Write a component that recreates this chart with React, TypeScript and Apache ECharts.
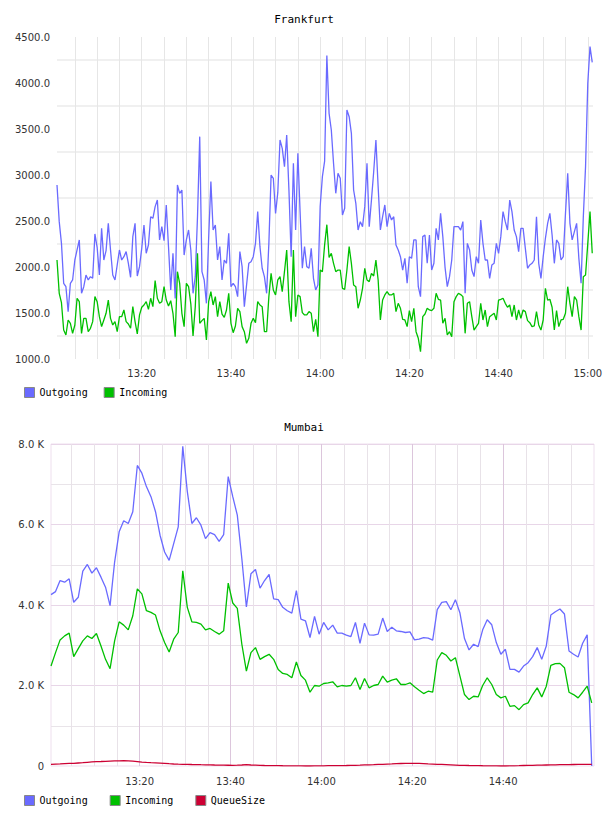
import React, { useEffect, useRef } from "react";
import * as echarts from "echarts";

// Frankfurt: samples every 30 s from 13:01 to 15:01
const frankfurtOutgoing = [
  2891, 2493, 2257, 1823, 1786, 1515, 1823, 1859, 2076, 2185,
  2294, 1714, 1786, 1913, 1859, 1895, 1877, 2359, 2214, 1913,
  2420, 2076, 2178, 2475, 2185, 1913, 1859, 2022, 2185, 2076,
  2112, 2167, 2040, 1888, 2330, 2475, 1902, 2004, 2203, 2457,
  2149, 2239, 2547, 2529, 2656, 2728, 2294, 2439, 2286, 2674,
  2221, 1750, 2149, 1659, 2891, 2801, 2837, 2130, 2294, 2402,
  2185, 1714, 1895, 2547, 3417, 1949, 1859, 1605, 2312, 2928,
  2402, 2457, 2076, 2221, 1859, 2076, 2040, 2366, 1786, 1823,
  1786, 1678, 2167, 2004, 1569, 1804, 2040, 2058, 2112, 2257,
  2602, 2221, 1986, 1895, 1714, 2257, 3000, 2964, 2583, 2808,
  3380, 3290, 3091, 3435, 2837, 2112, 3127, 2402, 3236, 2602,
  1986, 2221, 2004, 1986, 2203, 1877, 1750, 1804, 2656, 2982,
  3150, 4300, 3670, 3489, 3127, 2801, 3018, 2964, 2565, 2638,
  3707, 3634, 3453, 2837, 2692, 2402, 2493, 2439, 2656, 3127,
  2439, 2728, 3036, 3380, 2873, 2402, 2547, 2674, 2439, 2583,
  2511, 2547, 2239, 2185, 2112, 1967, 2094, 1823, 2112, 2094,
  2294, 2294, 1786, 1678, 2330, 2348, 2040, 2348, 1967, 2040,
  2420, 2294, 2583, 2330, 1996, 1786, 1895, 2076, 2439, 2439,
  2439, 2400, 2493, 1714, 2257, 2185, 1967, 1895, 2112, 2040,
  2511, 2257, 2076, 2076, 1877, 2022, 2040, 2257, 2149, 2330,
  2602, 2493, 2402, 2728, 2602, 2402, 2330, 2167, 2420, 2420,
  2203, 1986, 2022, 2040, 2076, 2547, 2040, 1877, 2112, 2312,
  2475, 2583, 2348, 2040, 2294, 2257, 2076, 2112, 2583, 3018,
  2475, 2294, 2384, 2475, 2094, 1823, 2547, 3091, 3996, 4395,
  4225,
];

const frankfurtIncoming = [
  2076, 1714, 1612, 1315, 1261, 1424, 1388, 1279, 1370, 1660,
  1623, 1279, 1442, 1442, 1297, 1334, 1406, 1678, 1623, 1460,
  1352, 1424, 1497, 1641, 1442, 1370, 1406, 1297, 1460, 1460,
  1533, 1406, 1380, 1334, 1569, 1406, 1272, 1479, 1562, 1587,
  1623, 1540, 1660, 1569, 1852, 1660, 1605, 1623, 1786, 1641,
  1576, 1634, 1497, 1243, 1949, 1823, 1497, 1352, 1823, 1786,
  1600, 1250, 1569, 2149, 1388, 1417, 1442, 1207, 1623, 1732,
  1587, 1678, 1460, 1623, 1489, 1453, 1533, 1714, 1388, 1286,
  1359, 1551, 1515, 1352, 1297, 1170, 1225, 1388, 1442, 1395,
  1623, 1587, 1569, 1297, 1297, 1678, 1931, 1750, 1696, 1859,
  1895, 1732, 1949, 2185, 1623, 1406, 2185, 1460, 1696, 1678,
  1504, 1479, 1479, 1515, 1497, 1297, 1431, 1243, 1967, 1949,
  2240, 2460, 2105, 2149, 2040, 1949, 1967, 1967, 1768, 1757,
  1967, 2221, 2040, 1804, 1786, 1551, 1641, 1768, 1986, 1859,
  1841, 1931, 1902, 2076, 1859, 1424, 1641, 1696, 1732, 1696,
  1696, 1714, 1515, 1605, 1551, 1431, 1424, 1352, 1526, 1406,
  1551, 1297, 1225, 1080, 1460, 1489, 1551, 1533, 1526, 1551,
  1714, 1649, 1641, 1388, 1442, 1261, 1297, 1243, 1623, 1678,
  1714, 1700, 1678, 1279, 1605, 1623, 1460, 1315, 1352, 1388,
  1605, 1424, 1533, 1352, 1460, 1479, 1497, 1424, 1641, 1649,
  1660, 1605, 1562, 1587, 1460, 1587, 1424, 1533, 1442, 1533,
  1515, 1417, 1395, 1352, 1359, 1515, 1370, 1315, 1424, 1768,
  1641, 1649, 1562, 1315, 1526, 1352, 1424, 1431, 1497, 1786,
  1605, 1460, 1678, 1641, 1460, 1315, 1895, 1913, 2257, 2602,
  2149,
];

// Mumbai: one sample per minute from 13:00:30
const mumbaiOutgoing = [
  4258, 4333, 4608, 4567, 4650, 4067, 4192, 4842, 5008, 4792,
  4925, 4692, 4442, 3983, 5067, 5817, 6092, 6025, 6317, 7467,
  7275, 6942, 6692, 6317, 5733, 5317, 5108, 5525, 5942, 7942,
  6817, 6025, 6167, 5983, 5650, 5800, 5750, 5583, 5750, 7192,
  6692, 6233, 5150, 3950, 4775, 4883, 4417, 4608, 4758, 4150,
  4133, 3942, 3858, 3800, 4358, 3650,
  3608, 3192, 3717, 3275, 3567, 3383, 3500, 3300, 3300, 3250,
  3217, 3567, 3050, 3550, 3258, 3250, 3275, 3675, 3342, 3450,
  3358, 3342, 3317, 3333, 3133, 3150, 3192, 3175, 3125, 3883,
  4067, 4083, 3883, 4133, 3800, 3167, 2883, 3025, 2967, 3383,
  3633, 3508, 3067, 2775, 2900, 2400, 2400, 2333, 2483, 2567,
  2717, 2942, 2650, 2983, 3750, 3833, 3900, 3775, 2858, 2775,
  2708, 3050, 3258, 0,
];

const mumbaiIncoming = [
  2483, 2817, 3133, 3233, 3300, 2717, 2917, 3108, 3233, 3167,
  3292, 2983, 2650, 2417, 3108, 3583, 3500, 3383, 3733, 4400,
  4275, 3858, 3817, 3750, 3358, 3067, 2833, 3150, 3317, 4850,
  3942, 3583, 3567, 3525, 3383, 3417, 3342, 3275, 3358, 4542,
  4050, 3917, 3025, 2358, 2817, 2942, 2650, 2717, 2775, 2650,
  2400, 2300, 2275, 2192, 2583, 2250,
  2133, 1833, 2000, 1983, 2050, 2067, 2092, 1967, 2000, 1983,
  2000, 2192, 1900, 2175, 1942, 2000, 2025, 2233, 2083, 2133,
  2167, 2025, 2025, 2067, 1967, 1883, 1800, 1858, 1833, 2633,
  2817, 2750, 2608, 2692, 2233, 1775, 1650, 1733, 1717, 2000,
  2192, 2025, 1775, 1692, 1733, 1483, 1500, 1400, 1525, 1567,
  1775, 1942, 1717, 1983, 2500, 2542, 2550, 2442, 1833, 1775,
  1692, 1833, 1983, 1567,
];

const mumbaiQueueSize = [
  42, 47, 52, 58, 63, 67, 75, 83, 92, 100,
  108, 112, 117, 121, 125, 129, 133, 128, 120, 110,
  95, 88, 82, 77, 72, 67, 58, 50, 45, 42,
  40, 37, 35, 32, 30, 28, 25, 23, 21, 19,
  17, 20, 25, 33, 25, 20, 15, 12, 10, 8,
  8, 6, 5, 3, 2, 2,
  0, 0, 2, 3, 5, 7, 8, 8, 10, 12,
  15, 18, 22, 27, 30, 33, 38, 42, 48, 52,
  57, 62, 65, 67, 67, 63, 58, 52, 47, 42,
  38, 33, 28, 23, 18, 15, 12, 10, 8, 6,
  5, 3, 2, 0, 0, 2, 5, 8, 12, 15,
  17, 20, 22, 25, 27, 30, 32, 33, 35, 37,
  38, 40, 42, 42,
];

// Times are minutes after midnight
const frankfurtStart = 781; // 13:01
const frankfurtStep = 0.5;
const mumbaiStart = 780.5; // 13:00:30
const mumbaiStep = 1;

const frankfurtTimeLabels = [800, 820, 840, 860, 880, 900];
const frankfurtTimeGrid = [785, 790, 795, 800, 805, 810, 815, 820, 825, 830, 835, 840, 845, 850, 855, 860, 865, 870, 875, 880, 885, 890, 895, 900];
const frankfurtValueLabels = [1000, 1500, 2000, 2500, 3000, 3500, 4000, 4500];
const frankfurtValueGrid = [1250, 1750, 2250, 2750, 3250, 3750, 4250];

const mumbaiTimeLabels = [800, 820, 840, 860, 880];
const mumbaiTimeMinor = [785, 790, 795, 805, 810, 815, 825, 830, 835, 845, 850, 855, 865, 870, 875, 885, 890, 895];
const mumbaiValueLabels = [0, 2000, 4000, 6000, 8000];
const mumbaiValueMajor = [2000, 4000, 6000, 8000];
const mumbaiValueMinor = [1000, 3000, 5000, 7000];

const COLOR_OUT = "#6a6aff";
const COLOR_IN = "#00c000";
const COLOR_QUEUE = "#cc0033";

const fmtTime = (v: number) => {
  const h = Math.floor(v / 60);
  const m = Math.round(v - h * 60);
  return `${h}:${String(m).padStart(2, "0")}`;
};

const labelFont = { fontFamily: "DejaVu Sans", fontSize: 10, color: "#333" };
const monoFont = { fontFamily: "DejaVu Sans Mono", fontSize: 11, color: "#000", fontWeight: "normal" as const };

export default function App() {
  const ref = useRef<HTMLDivElement>(null);

  useEffect(() => {
    if (!ref.current) return;
    const chart = echarts.init(ref.current, undefined, { renderer: "svg" });

    const toPairs = (arr: number[], start: number, step: number) => arr.map((v, i) => [start + i * step, v]);

    const option = {
      animation: false,
      backgroundColor: "#ffffff",
      title: [
        { text: "Frankfurt", left: "center", top: 14, padding: 0, textStyle: monoFont },
        { text: "Mumbai", left: "center", top: 422, padding: 0, textStyle: monoFont },
      ],
      legend: [
        {
          data: ["Outgoing", "Incoming"],
          left: 24, top: 387, padding: 0, itemGap: 16, itemWidth: 10, itemHeight: 10,
          icon: "rect", selectedMode: false,
          itemStyle: { borderColor: "#888", borderWidth: 1 },
          textStyle: { fontFamily: "DejaVu Sans Mono", fontSize: 10, color: "#000", padding: [0, 0, 0, 0] },
        },
        {
          data: ["Outgoing", "Incoming", "QueueSize"],
          left: 24, top: 795, padding: 0, itemGap: 22, itemWidth: 10, itemHeight: 10,
          icon: "rect", selectedMode: false,
          itemStyle: { borderColor: "#888", borderWidth: 1 },
          textStyle: { fontFamily: "DejaVu Sans Mono", fontSize: 10, color: "#000" },
        },
      ],
      grid: [
        { left: 57, top: 37, width: 536, height: 322, show: false },
        { left: 51, top: 444, width: 543, height: 322, show: true, borderColor: "#eedfee", borderWidth: 1 },
      ],
      xAxis: [
        {
          gridIndex: 0, type: "value", min: frankfurtStart, max: 901.17,
          axisLine: { show: false },
          axisTick: { show: false, customValues: frankfurtTimeGrid },
          axisLabel: { customValues: frankfurtTimeLabels, formatter: fmtTime, margin: 9, ...labelFont },
          splitLine: { show: true, lineStyle: { color: "#e6e6e6", width: 1 } },
        },
        {
          gridIndex: 1, type: "value", min: mumbaiStart, max: 900, position: "top",
          axisLine: { show: false },
          axisTick: { show: false, customValues: mumbaiTimeMinor },
          axisLabel: { show: false },
          splitLine: { show: true, lineStyle: { color: "#e8e2e8", width: 1 } },
        },
        {
          gridIndex: 1, type: "value", min: mumbaiStart, max: 900, position: "bottom",
          axisLine: { show: false },
          axisTick: { show: false, customValues: mumbaiTimeLabels },
          axisLabel: { customValues: mumbaiTimeLabels, formatter: fmtTime, margin: 10, ...labelFont },
          splitLine: { show: true, lineStyle: { color: "#dcc6dc", width: 1 } },
        },
      ],
      yAxis: [
        {
          gridIndex: 0, type: "value", min: 1000, max: 4500,
          axisLine: { show: false },
          axisTick: { show: false, customValues: frankfurtValueGrid },
          axisLabel: { customValues: frankfurtValueLabels, formatter: (v: number) => v.toFixed(1), margin: 7, ...labelFont },
          splitLine: { show: true, lineStyle: { color: "#f0f0f0", width: 2 } },
        },
        {
          gridIndex: 1, type: "value", min: 0, max: 8000, position: "right",
          axisLine: { show: false },
          axisTick: { show: false, customValues: mumbaiValueMinor },
          axisLabel: { show: false },
          splitLine: { show: true, lineStyle: { color: "#e9e4e9", width: 1 } },
        },
        {
          gridIndex: 1, type: "value", min: 0, max: 8000, position: "left",
          axisLine: { show: false },
          axisTick: { show: false, customValues: mumbaiValueMajor },
          axisLabel: {
            customValues: mumbaiValueLabels,
            formatter: (v: number) => (v === 0 ? "0" : `${(v / 1000).toFixed(1)} K`),
            margin: 7, ...labelFont,
          },
          splitLine: { show: true, lineStyle: { color: "#e8d6e8", width: 1 } },
        },
      ],
      series: [
        {
          name: "Outgoing", type: "line", xAxisIndex: 0, yAxisIndex: 0, showSymbol: false,
          data: toPairs(frankfurtOutgoing, frankfurtStart, frankfurtStep),
          lineStyle: { color: COLOR_OUT, width: 1.3 }, itemStyle: { color: COLOR_OUT },
        },
        {
          name: "Incoming", type: "line", xAxisIndex: 0, yAxisIndex: 0, showSymbol: false,
          data: toPairs(frankfurtIncoming, frankfurtStart, frankfurtStep),
          lineStyle: { color: COLOR_IN, width: 1.3 }, itemStyle: { color: COLOR_IN },
        },
        {
          name: "Outgoing", type: "line", xAxisIndex: 1, yAxisIndex: 1, showSymbol: false,
          data: toPairs(mumbaiOutgoing, mumbaiStart, mumbaiStep),
          lineStyle: { color: COLOR_OUT, width: 1.3 }, itemStyle: { color: COLOR_OUT },
        },
        {
          name: "Incoming", type: "line", xAxisIndex: 1, yAxisIndex: 1, showSymbol: false,
          data: toPairs(mumbaiIncoming, mumbaiStart, mumbaiStep),
          lineStyle: { color: COLOR_IN, width: 1.3 }, itemStyle: { color: COLOR_IN },
        },
        {
          name: "QueueSize", type: "line", xAxisIndex: 1, yAxisIndex: 1, showSymbol: false,
          data: toPairs(mumbaiQueueSize, mumbaiStart, mumbaiStep),
          lineStyle: { color: COLOR_QUEUE, width: 1.3 }, itemStyle: { color: COLOR_QUEUE },
        },
      ],
    };

    chart.setOption(option as any);
    return () => chart.dispose();
  }, []);

  return (
    <div
      ref={ref}
      style={{ position: "absolute", left: 0, top: 0, width: 608, height: 816, background: "#fff" }}
    />
  );
}
